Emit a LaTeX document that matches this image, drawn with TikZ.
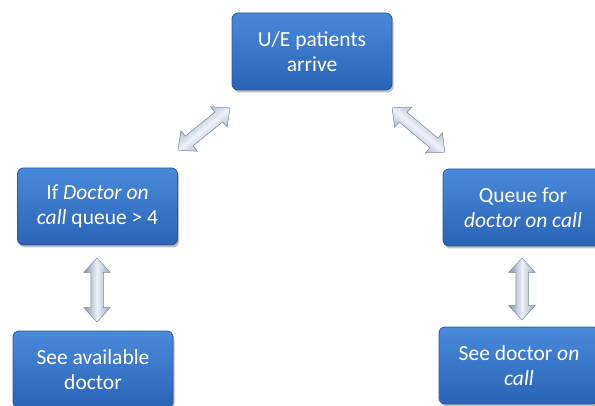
\documentclass[tikz,border=0pt]{standalone}
\usepackage{fontspec}
\setmainfont{Carlito}
\usetikzlibrary{shapes.arrows,shadows}

\definecolor{boxtop}{HTML}{4A8ADA}
\definecolor{boxbot}{HTML}{2A63B5}
\definecolor{boxedge}{HTML}{2B5797}
\definecolor{arrlight}{HTML}{EEF1F8}
\definecolor{arrdark}{HTML}{8391AA}
\definecolor{arredge}{HTML}{7A879C}

\tikzset{
  stepbox/.style={
    draw=boxedge, line width=0.8pt, rounded corners=6pt,
    top color=boxtop, bottom color=boxbot,
    minimum width=160pt, minimum height=77pt,
    text=white, align=center, font=\fontsize{21.5}{25}\selectfont,
    inner sep=2pt,
    drop shadow={shadow xshift=1.5pt, shadow yshift=-2.5pt, opacity=0.35, fill=black!70}
  },
  linkarrow/.style={
    double arrow, draw=arredge, line width=0.5pt,
    inner sep=6pt, minimum width=26pt,
    double arrow head extend=7pt,
    double arrow tip angle=85,
    minimum height=#1
  }
}

\begin{document}
\begin{tikzpicture}[x=1pt,y=1pt]
  \useasboundingbox (0,0) rectangle (595,405);

  % process boxes
  \node[stepbox] (arrive) at (312,353.5) {U/E patients\\arrive};
  \node[stepbox] (check)  at (97.5,198.5) {If \textit{Doctor on}\\\textit{call} queue > 4};
  \node[stepbox] (queue)  at (523,197.5) {Queue for\\\textit{doctor on call}};
  \node[stepbox] (avail)  at (93,35.5) {See available\\doctor};
  \node[stepbox] (oncall) at (519,39.5) {See doctor \textit{on}\\\textit{call}};

  % two-way block arrows between the boxes
  \node[linkarrow=67pt, rotate=39, shading=axis, top color=arrdark, bottom color=arrdark,
        middle color=arrlight, shading angle=39] (a1) at (204,276) {};
  \node[linkarrow=69pt, rotate=-40, shading=axis, top color=arrdark, bottom color=arrdark,
        middle color=arrlight, shading angle=-40] (a2) at (418.5,275) {};
  \node[linkarrow=64pt, rotate=90, shading=axis, left color=arrdark, right color=arrdark!80,
        middle color=arrlight] (a3) at (97,115) {};
  \node[linkarrow=62pt, rotate=90, shading=axis, left color=arrdark, right color=arrdark!80,
        middle color=arrlight] (a4) at (522,116) {};
\end{tikzpicture}
\end{document}
